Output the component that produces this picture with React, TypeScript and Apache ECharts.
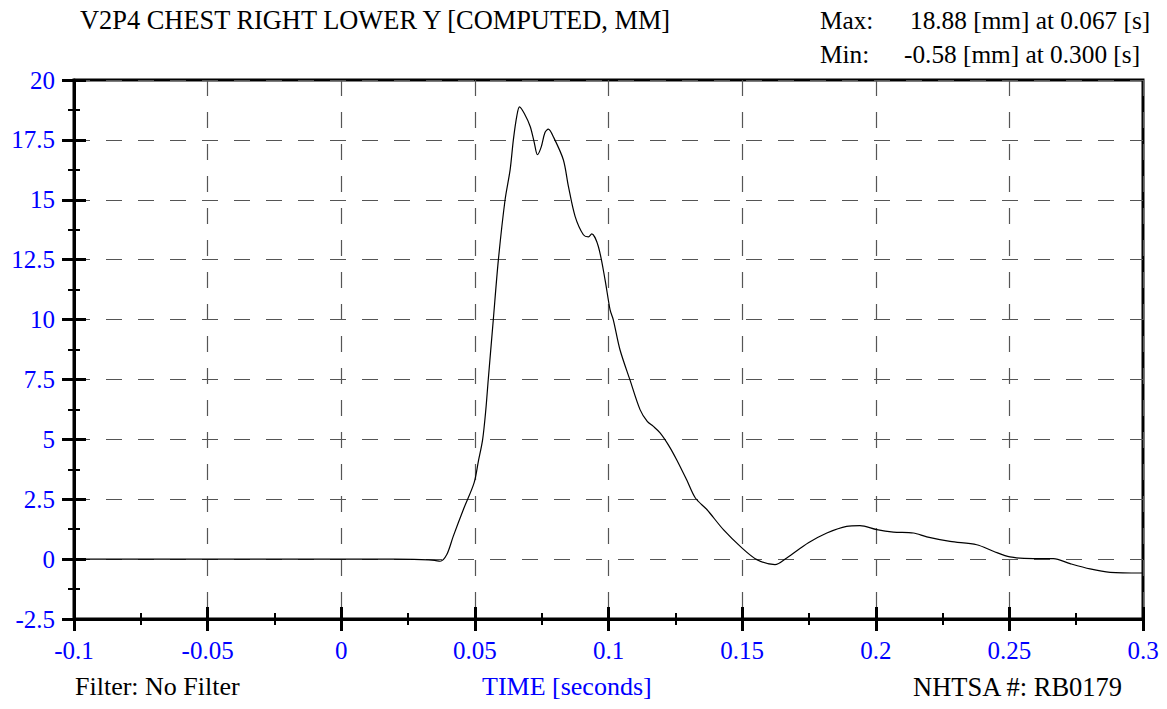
import React, { useEffect, useRef } from "react";
import * as echarts from "echarts";

const timeValues = [
  -0.1, -0.05, 0, 0.02, 0.03, 0.035, 0.037, 0.0395, 0.0419, 0.0457, 0.0497,
  0.0513, 0.0529, 0.0541, 0.055, 0.0569, 0.0588, 0.0613, 0.0632, 0.0644,
  0.0657, 0.0667, 0.0685, 0.0707, 0.0722, 0.0734, 0.0748, 0.0762, 0.0775,
  0.0795, 0.0831, 0.085, 0.0875, 0.0906, 0.0925, 0.0937, 0.0962, 0.0987,
  0.1006, 0.1018, 0.1043, 0.108, 0.1118, 0.1145, 0.1168, 0.1193, 0.1225,
  0.1255, 0.1292, 0.1325, 0.1368, 0.143, 0.1499, 0.1555, 0.1623, 0.1667,
  0.1748, 0.1817, 0.1891, 0.1941, 0.2004, 0.2066, 0.2141, 0.2191, 0.2278,
  0.2378, 0.244, 0.2502, 0.259, 0.2665, 0.2727, 0.2802, 0.2877, 0.2995, 0.3,
];
const chestValues = [
  0, 0, 0, 0, -0.02, -0.05, -0.09, 0.19, 0.95, 2.07, 3.18,
  4.08, 4.99, 6.24, 7.49, 10.0, 12.5, 15.0, 16.26, 17.5,
  18.5, 18.88, 18.6, 18.06, 17.4, 16.88, 17.2, 17.8, 17.95,
  17.6, 16.67, 15.56, 14.31, 13.54, 13.45, 13.58, 13.05, 11.67,
  10.4, 9.99, 8.74, 7.49, 6.24, 5.75, 5.54, 5.27, 4.75,
  4.15, 3.32, 2.55, 2.07, 1.23, 0.47, -0.02, -0.23, 0.05,
  0.68, 1.09, 1.37, 1.4, 1.23, 1.13, 1.09, 0.93, 0.74,
  0.6, 0.33, 0.09, 0.02, 0.02, -0.19, -0.41, -0.55, -0.58, -0.58,
];

const xTicks = { min: -0.1, max: 0.3, interval: 0.05 };
const yTicks = { min: -2.5, max: 20, interval: 2.5 };

const titleText = "V2P4 CHEST RIGHT LOWER Y [COMPUTED, MM]";
const maxLabel = "Max:";
const maxText = "18.88 [mm] at 0.067 [s]";
const minLabel = "Min:";
const minText = "-0.58 [mm] at 0.300 [s]";
const filterText = "Filter: No Filter";
const axisTitle = "TIME [seconds]";
const idText = "NHTSA #: RB0179";

const FONT = "Liberation Serif";
const BLUE = "#0000ff";

const fmt = (v: number) => String(parseFloat(v.toFixed(4)));

export default function App() {
  const ref = useRef<HTMLDivElement>(null);
  useEffect(() => {
    document.body.style.margin = "0";
    if (!ref.current) return;
    const chart = echarts.init(ref.current, undefined, { renderer: "svg" });
    const data = timeValues.map((t, i) => [t, chestValues[i]]);
    const grid = { left: 74, top: 80, right: 24, bottom: 90 };
    const splitStyle = {
      show: true,
      lineStyle: { color: "#555", width: 1.2, type: [16, 16] as any },
    };
    const tickLine = { color: "#000", width: 3 };
    const minorLine = { color: "#000", width: 2 };
    const labelStyle = {
      color: BLUE,
      fontFamily: FONT,
      fontSize: 25,
      fontWeight: "normal" as const,
      formatter: (v: number) => fmt(v),
    };
    const baseX = {
      type: "value" as const,
      min: xTicks.min,
      max: xTicks.max,
      interval: xTicks.interval,
      position: "bottom" as const,
    };
    const baseY = {
      type: "value" as const,
      min: yTicks.min,
      max: yTicks.max,
      interval: yTicks.interval,
      position: "left" as const,
    };
    const txt = (text: string, left: number, top: number, size: number, fill = "#000") => ({
      type: "text",
      left,
      top,
      style: { text, fontFamily: FONT, fontSize: size, fill },
    });
    chart.setOption({
      animation: false,
      textStyle: { fontFamily: FONT },
      grid: { ...grid, show: true, borderColor: "#000", borderWidth: 3, backgroundColor: "transparent" },
      xAxis: [
        {
          ...baseX,
          axisLine: { show: true, onZero: false, lineStyle: { color: "#000", width: 3 } },
          axisTick: { show: true, inside: false, length: 12, lineStyle: tickLine },
          minorTick: { show: true, splitNumber: 2, length: 6, lineStyle: minorLine },
          axisLabel: { ...labelStyle, margin: 19 },
          splitLine: splitStyle,
        },
        {
          ...baseX,
          axisLine: { show: false, onZero: false },
          axisTick: { show: true, inside: true, length: 12, lineStyle: tickLine },
          minorTick: { show: true, splitNumber: 2, length: 6, lineStyle: minorLine },
          axisLabel: { show: false },
          splitLine: { show: false },
        },
      ],
      yAxis: [
        {
          ...baseY,
          axisLine: { show: true, onZero: false, lineStyle: { color: "#000", width: 3 } },
          axisTick: { show: true, inside: false, length: 12, lineStyle: tickLine },
          minorTick: { show: true, splitNumber: 2, length: 6, lineStyle: minorLine },
          axisLabel: { ...labelStyle, margin: 19 },
          splitLine: splitStyle,
        },
        {
          ...baseY,
          axisLine: { show: false, onZero: false },
          axisTick: { show: true, inside: true, length: 12, lineStyle: tickLine },
          minorTick: { show: true, splitNumber: 2, length: 6, lineStyle: minorLine },
          axisLabel: { show: false },
          splitLine: { show: false },
        },
      ],
      series: [
        {
          type: "line",
          data,
          xAxisIndex: 0,
          yAxisIndex: 0,
          showSymbol: false,
          smooth: 0.3,
          lineStyle: { color: "#000", width: 1.2 },
          z: 5,
        },
      ],
      graphic: [
        txt(titleText, 80, 7, 26.4),
        txt(maxLabel, 820, 7, 25.3),
        txt(maxText, 910, 7, 25.3),
        txt(minLabel, 820, 41, 25.3),
        txt(minText, 904, 41, 25.3),
        txt(filterText, 75, 673, 26),
        txt(axisTitle, 482, 673, 26, BLUE),
        txt(idText, 913, 673, 26.5),
      ],
    });
    return () => chart.dispose();
  }, []);
  return <div ref={ref} style={{ width: 1167, height: 709 }} />;
}
